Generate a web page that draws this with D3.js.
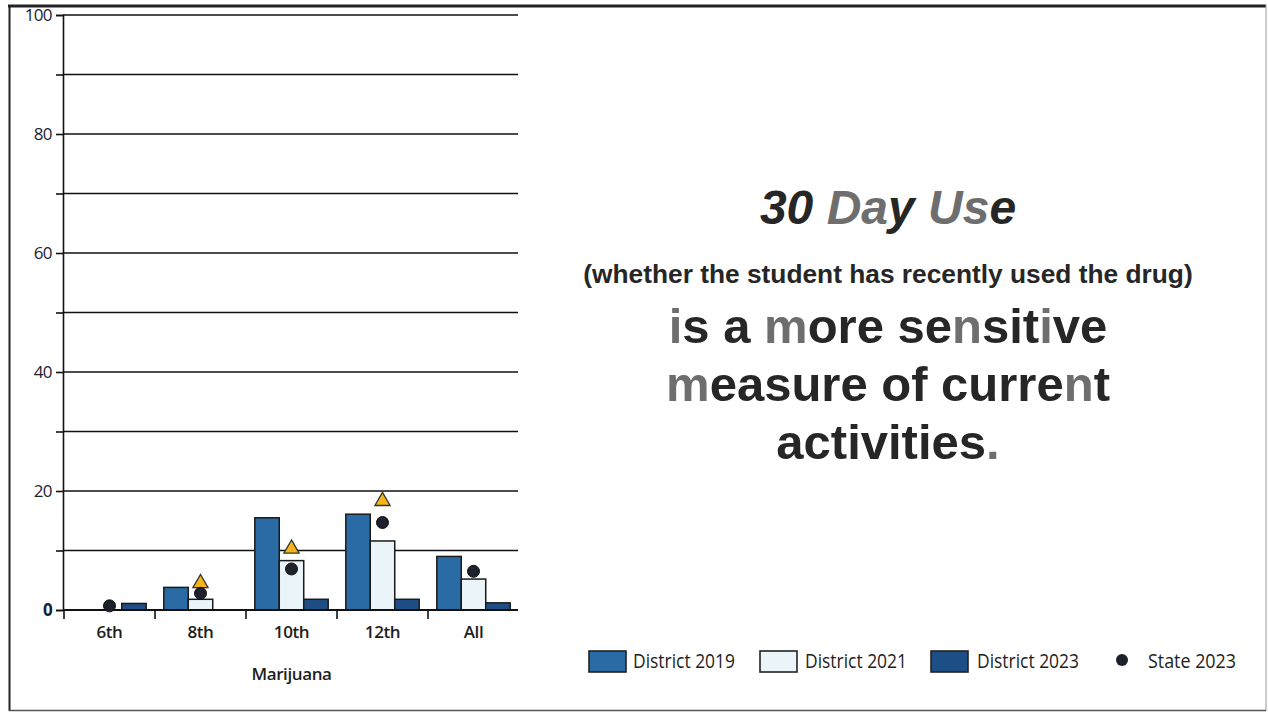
<!DOCTYPE html>
<html>
<head>
<meta charset="utf-8">
<script src="https://cdn.jsdelivr.net/npm/d3@7/dist/d3.min.js"></script>
<style>
  html, body { margin: 0; padding: 0; background: #fff; }
  svg { display: block; }
</style>
</head>
<body>
<svg id="chart" width="1268" height="713"></svg>
<script>
// ---- data ----
const categories = ["6th", "8th", "10th", "12th", "All"];
const district2019 = [0, 3.8, 15.5, 16.1, 9.0];
const district2021 = [0, 1.8, 8.3, 11.6, 5.2];
const district2023 = [1.1, 0, 1.8, 1.8, 1.2];
const state2023 = [0.7, 2.8, 6.9, 14.7, 6.5];
const triangleMarker = [null, 4.5, 10.3, 18.3, null];
const yTickLabels = [0, 20, 40, 60, 80, 100];
const gridValues = [10, 20, 30, 40, 50, 60, 70, 80, 90, 100];
const seriesNames = ["District 2019", "District 2021", "District 2023"];
const seriesColors = ["#2b6ba5", "#eaf5fa", "#1d4f86"];
const xAxisTitle = "Marijuana";

const svg = d3.select("#chart");
const chartFont = "'Open Sans', sans-serif";
const ink = "#1e1e1e";

// frame
svg.append("line").attr("x1", 8).attr("x2", 1266).attr("y1", 6).attr("y2", 6).attr("stroke", "#222").attr("stroke-width", 3);
svg.append("line").attr("x1", 9.5).attr("x2", 9.5).attr("y1", 5).attr("y2", 711).attr("stroke", "#222").attr("stroke-width", 2);
svg.append("line").attr("x1", 1266).attr("x2", 1266).attr("y1", 5).attr("y2", 711).attr("stroke", "#999").attr("stroke-width", 1);
svg.append("line").attr("x1", 9).attr("x2", 1266).attr("y1", 710.5).attr("y2", 710.5).attr("stroke", "#555").attr("stroke-width", 1.5);

// scales
const x = d3.scaleBand().domain(categories).range([64, 519]).padding(0);
const sub = d3.scaleBand().domain(seriesNames).range([0, x.bandwidth()]).paddingInner(0).paddingOuter(0.36);
const y = d3.scaleLinear().domain([0, 100]).range([610, 15]);

const g = svg.append("g");

// gridlines
g.selectAll("line.grid").data(gridValues).join("line")
  .attr("class", "grid")
  .attr("x1", 63).attr("x2", 518)
  .attr("y1", d => y(d)).attr("y2", d => y(d))
  .attr("stroke", "#111").attr("stroke-width", 1.6);

// y axis
const yAxis = d3.axisLeft(y).tickValues(d3.range(0, 101, 10)).tickSize(7).tickPadding(4)
  .tickFormat(d => yTickLabels.includes(d) ? d : "");
const yg = g.append("g").attr("transform", "translate(63,0)").call(yAxis);
yg.select(".domain").attr("stroke", "#111").attr("stroke-width", 1.6);
yg.selectAll(".tick line").attr("stroke", "#111").attr("stroke-width", 1.6);
yg.selectAll(".tick text").attr("font-family", chartFont)
  .attr("font-size", 17).attr("fill", "#1b2233").attr("letter-spacing", "-0.6");
yg.selectAll(".tick text").filter(d => d === 0).attr("font-weight", 700).attr("fill", "#14213d");

// bars
const seriesData = [district2019, district2021, district2023];
seriesData.forEach((vals, si) => {
  g.selectAll(null).data(vals.map((v, i) => ({ v, c: categories[i] }))).join("rect")
    .filter(d => d.v > 0)
    .attr("x", d => x(d.c) + sub(seriesNames[si]))
    .attr("width", sub.bandwidth())
    .attr("y", d => y(d.v))
    .attr("height", d => y(0) - y(d.v))
    .attr("fill", seriesColors[si])
    .attr("stroke", "#1a1a1a").attr("stroke-width", 1.5);
});

// x axis line
g.append("line").attr("x1", 63).attr("x2", 518).attr("y1", y(0)).attr("y2", y(0))
  .attr("stroke", "#111").attr("stroke-width", 1.8);
// ticks at band starts
g.selectAll("line.xtick").data(categories).join("line")
  .attr("class", "xtick")
  .attr("x1", d => x(d)).attr("x2", d => x(d))
  .attr("y1", y(0)).attr("y2", y(0) + 9)
  .attr("stroke", "#111").attr("stroke-width", 1.6);
// labels
g.selectAll("text.xlab").data(categories).join("text")
  .attr("class", "xlab")
  .attr("x", d => x(d) + x.bandwidth() / 2)
  .attr("y", 638)
  .attr("text-anchor", "middle")
  .attr("font-family", chartFont).attr("font-size", 17).attr("font-weight", 600)
  .attr("letter-spacing", "-0.4")
  .attr("fill", ink)
  .text(d => d);
g.append("text").attr("x", (64 + 519) / 2).attr("y", 680).attr("text-anchor", "middle")
  .attr("font-family", chartFont).attr("font-size", 17).attr("font-weight", 600)
  .attr("letter-spacing", "-0.4")
  .attr("fill", ink).text(xAxisTitle);

// triangles
const tri = d3.symbol().type(d3.symbolTriangle).size(100);
g.selectAll("path.tri").data(triangleMarker.map((v, i) => ({ v, c: categories[i] })).filter(d => d.v != null)).join("path")
  .attr("class", "tri")
  .attr("d", tri)
  .attr("transform", d => `translate(${x(d.c) + x.bandwidth() / 2},${y(d.v)})`)
  .attr("fill", "#f4b41a").attr("stroke", "#333").attr("stroke-width", 1.3);

// state dots
g.selectAll("circle.state").data(state2023.map((v, i) => ({ v, c: categories[i] }))).join("circle")
  .attr("class", "state")
  .attr("cx", d => x(d.c) + x.bandwidth() / 2)
  .attr("cy", d => y(d.v))
  .attr("r", 6)
  .attr("fill", "#1c212b").attr("stroke", "#111").attr("stroke-width", 1);

// legend
const legendItems = [
  { name: seriesNames[0], type: "rect", color: seriesColors[0], x: 589, tx: 633, w: 102 },
  { name: seriesNames[1], type: "rect", color: seriesColors[1], x: 760, tx: 805, w: 102 },
  { name: seriesNames[2], type: "rect", color: seriesColors[2], x: 931, tx: 977, w: 102 },
  { name: "State 2023", type: "dot", color: "#1c212b", x: 1122, tx: 1148, w: 88 }
];
const lg = svg.append("g");
legendItems.forEach(it => {
  if (it.type === "rect") {
    lg.append("rect").attr("x", it.x).attr("y", 651).attr("width", 37).attr("height", 21)
      .attr("fill", it.color).attr("stroke", "#222").attr("stroke-width", 1.6);
  } else {
    lg.append("circle").attr("cx", it.x).attr("cy", 660).attr("r", 6).attr("fill", it.color);
  }
  lg.append("text").attr("x", it.tx).attr("y", 668)
    .attr("font-family", chartFont).attr("font-size", 20).attr("font-weight", 500)
    .attr("textLength", it.w).attr("lengthAdjust", "spacingAndGlyphs")
    .attr("fill", ink).text(it.name);
});

// right-side text
const gray = "#6e6e6e";
const dark = "#262626";
const textFont = "'Liberation Sans', Arial, sans-serif";
function richLine(yPos, size, parts, opts = {}) {
  const t = svg.append("text").attr("x", 888).attr("y", yPos).attr("text-anchor", "middle")
    .attr("font-family", textFont).attr("font-size", size).attr("font-weight", 700)
    .attr("font-style", opts.italic ? "italic" : "normal").attr("fill", dark);
  parts.forEach(p => {
    t.append("tspan").attr("fill", p[1] ? gray : dark).text(p[0]);
  });
}
richLine(224, 48, [["30 ", 0], ["Da", 1], ["y ", 0], ["Us", 1], ["e", 0]], { italic: true });
richLine(283, 26.3, [["(whether the student has recently used the drug)", 0]]);
richLine(343, 49, [["i", 1], ["s a ", 0], ["m", 1], ["ore se", 0], ["n", 1], ["sit", 0], ["i", 1], ["ve", 0]]);
richLine(401, 49, [["m", 1], ["easure of curre", 0], ["n", 1], ["t", 0]]);
richLine(459, 49, [["activities", 0], [".", 1]]);
</script>
</body>
</html>
